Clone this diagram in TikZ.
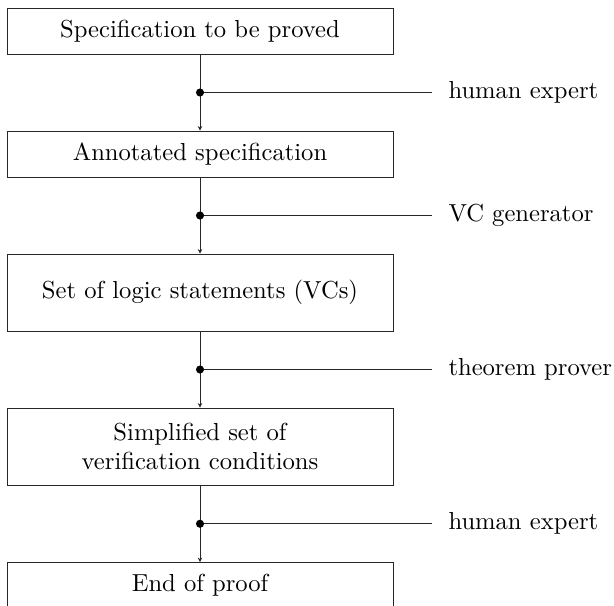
\documentclass[tikz,border=0pt]{standalone}
\usetikzlibrary{arrows.meta,calc}
\begin{document}
\begin{tikzpicture}[x=0.4065pt,y=-0.4065pt,
  box/.style={draw=black!85, line width=0.4pt, minimum width=156.9pt, inner sep=0pt, align=center, font=\normalsize},
  onebox/.style={box, minimum height=18.7pt},
  twobox/.style={box, minimum height=31.3pt},
  flow/.style={draw=black!85, line width=0.35pt, -{Stealth[length=1.8pt,width=1.8pt]}},
  tap/.style={draw=black!85, line width=0.35pt},
  tool/.style={anchor=west, inner sep=0pt}]
\useasboundingbox (0,0) rectangle (614,605);
\clip (0,0) rectangle (614,605);
\node[onebox] (b1) at (200,31) {Specification to be proved};
\node[onebox] (b2) at (200,154) {Annotated specification};
\node[twobox] (b3) at (200,292.5) {Set of logic statements (VCs)};
\node[twobox] (b4) at (200,446.5) {Simplified set of\\verification conditions};
\node[onebox] (b5) at (200,585.5) {End of proof};
\draw[flow] (b1) -- (b2) coordinate[pos=0.5] (d1);
\draw[flow] (b2) -- (b3) coordinate[pos=0.5] (d2);
\draw[flow] (b3) -- (b4) coordinate[pos=0.5] (d3);
\draw[flow] (b4) -- (b5) coordinate[pos=0.5] (d4);
\foreach \i/\t in {1/human expert,2/VC generator,3/theorem prover,4/human expert}{
  \path let \p1=(d\i) in coordinate (e\i) at (432,\y1);
  \node[tool] (l\i) at ($(e\i)+(16,0)$) {\t};
  \draw[tap] (d\i) -- (e\i);
  \fill (d\i) circle[radius=1.65pt];
}
\end{tikzpicture}
\end{document}
